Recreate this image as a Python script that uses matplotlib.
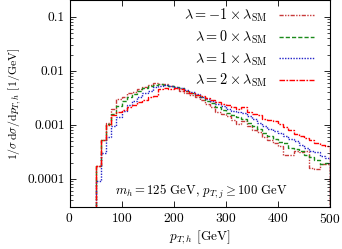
import matplotlib
matplotlib.use("Agg")
from matplotlib import pyplot as plt
from matplotlib.ticker import FixedLocator, FuncFormatter, LogLocator, NullFormatter
import numpy as np

plt.rcParams['mathtext.fontset'] = 'cm'
plt.rcParams['font.family'] = ['cmr10', 'DejaVu Serif']
plt.rcParams['axes.formatter.use_mathtext'] = True

# bin edges, 10 GeV wide
edges = np.arange(50, 501, 10)

# lambda = -1 x SM
lam_m1 = [1.7e-4, 5.3e-4, 1.1e-3, 2.0e-3, 3.0e-3, 3.2e-3, 3.8e-3, 4.1e-3, 4.6e-3, 5.0e-3,
          5.4e-3, 5.9e-3, 5.8e-3, 5.6e-3, 5.3e-3, 4.8e-3, 4.3e-3, 3.9e-3, 3.6e-3, 3.2e-3,
          2.9e-3, 2.4e-3, 2.1e-3, 1.7e-3, 1.55e-3, 1.45e-3, 1.25e-3, 1.05e-3, 1.15e-3, 9.5e-4,
          8.0e-4, 7.5e-4, 6.0e-4, 5.2e-4, 4.6e-4, 4.0e-4, 2.8e-4, 2.7e-4, 3.3e-4, 3.1e-4,
          3.2e-4, 1.6e-4, 1.5e-4, 1.9e-4, 1.9e-4]
# lambda = 0 x SM
lam_0 = [1.7e-4, 5.3e-4, 1.05e-3, 1.6e-3, 2.2e-3, 2.7e-3, 3.3e-3, 3.7e-3, 4.2e-3, 4.7e-3,
         5.2e-3, 5.4e-3, 5.6e-3, 5.5e-3, 5.3e-3, 5.1e-3, 4.8e-3, 4.3e-3, 3.9e-3, 3.5e-3,
         3.2e-3, 2.8e-3, 2.5e-3, 2.1e-3, 1.85e-3, 1.65e-3, 1.5e-3, 1.4e-3, 1.3e-3, 1.1e-3,
         9.5e-4, 8.5e-4, 7.0e-4, 6.3e-4, 5.5e-4, 4.8e-4, 4.5e-4, 3.7e-4, 3.5e-4, 3.2e-4,
         2.7e-4, 2.5e-4, 2.2e-4, 1.9e-4, 2.0e-4]
# lambda = 1 x SM
lam_1 = [9e-5, 3.0e-4, 6.0e-4, 9.5e-4, 1.4e-3, 1.8e-3, 2.3e-3, 2.8e-3, 3.3e-3, 3.8e-3,
         4.3e-3, 4.9e-3, 5.2e-3, 5.4e-3, 5.3e-3, 5.0e-3, 4.8e-3, 4.4e-3, 4.0e-3, 3.7e-3,
         3.3e-3, 3.0e-3, 2.7e-3, 2.4e-3, 2.2e-3, 2.0e-3, 1.8e-3, 1.7e-3, 1.65e-3, 1.45e-3,
         1.3e-3, 1.1e-3, 9.5e-4, 8.5e-4, 7.8e-4, 7.0e-4, 6.3e-4, 5.5e-4, 5.0e-4, 4.3e-4,
         3.7e-4, 3.3e-4, 3.1e-4, 2.6e-4, 2.4e-4]
# lambda = 2 x SM
lam_2 = [1.7e-4, 5.3e-4, 1.0e-3, 1.5e-3, 1.7e-3, 1.9e-3, 2.1e-3, 2.3e-3, 2.6e-3, 2.9e-3,
         3.2e-3, 3.4e-3, 4.6e-3, 4.7e-3, 4.6e-3, 4.7e-3, 4.5e-3, 4.2e-3, 3.9e-3, 3.6e-3,
         3.4e-3, 3.1e-3, 2.9e-3, 2.6e-3, 2.4e-3, 2.3e-3, 2.1e-3, 2.0e-3, 2.1e-3, 1.75e-3,
         1.6e-3, 1.5e-3, 1.3e-3, 1.2e-3, 1.15e-3, 1.05e-3, 9.0e-4, 8.0e-4, 6.8e-4, 6.3e-4,
         5.8e-4, 5.2e-4, 4.5e-4, 4.2e-4, 4.0e-4]

labels = [r'$\lambda = -1 \times \lambda_{\rm SM}$', r'$\lambda = 0 \times \lambda_{\rm SM}$',
          r'$\lambda = 1 \times \lambda_{\rm SM}$', r'$\lambda = 2 \times \lambda_{\rm SM}$']
series = [lam_m1, lam_0, lam_1, lam_2]
colors = ['#c83a3a', '#1a8a1a', '#2222c8', '#ff0000']
styles = [(0, (3, 1, 1, 1, 1, 1)), (0, (3, 1.5)), (0, (1, 1)), (0, (4, 1, 1.2, 1))]

fig = plt.figure(figsize=(3.42, 2.49), dpi=100)
ax = fig.add_axes([69.5/342, 42/249, 260.5/342, 206.5/249])

for vals, lab, c, ls in zip(series, labels, colors, styles):
    ax.stairs(vals, edges, baseline=1e-6, color=c, linestyle=ls, lw=1.0, label=lab)

ax.set_yscale('log')
ax.set_xlim(0, 500)
ax.set_ylim(3e-5, 0.2)
ax.xaxis.set_major_locator(FixedLocator([0, 100, 200, 300, 400, 500]))
ax.yaxis.set_major_locator(FixedLocator([1e-4, 1e-3, 1e-2, 1e-1]))
ax.yaxis.set_major_formatter(FuncFormatter(lambda v, p: {1e-4: '0.0001', 1e-3: '0.001', 1e-2: '0.01', 1e-1: '0.1'}.get(v, '')))
ax.yaxis.set_minor_locator(LogLocator(base=10, subs=np.arange(2, 10)))
ax.yaxis.set_minor_formatter(NullFormatter())
ax.tick_params(which='both', direction='in', top=True, right=True, labelsize=9.7)
ax.tick_params(which='major', length=4, width=0.6)
ax.tick_params(which='minor', length=2, width=0.5)
for s in ax.spines.values():
    s.set_linewidth(0.8)

ax.set_xlabel(r'$p_{T,h}$ [GeV]', fontsize=9.6, labelpad=2)
ax.set_ylabel(r'$1/\sigma\,{\rm d}\sigma/{\rm d}p_{T,h}$ [1/GeV]', fontsize=8.5, labelpad=3)

ax.text(0.505, 0.075, r'$m_h = 125$ GeV, $p_{T,j} \geq 100$ GeV', transform=ax.transAxes,
        ha='center', va='center', fontsize=9.2)

ax.legend(loc='upper right', bbox_to_anchor=(0.962, 0.997), frameon=False, markerfirst=False,
          fontsize=10.3, handlelength=2.45, labelspacing=0.3, borderaxespad=0, handletextpad=0.8)

fig.savefig('out.png', dpi=100)
